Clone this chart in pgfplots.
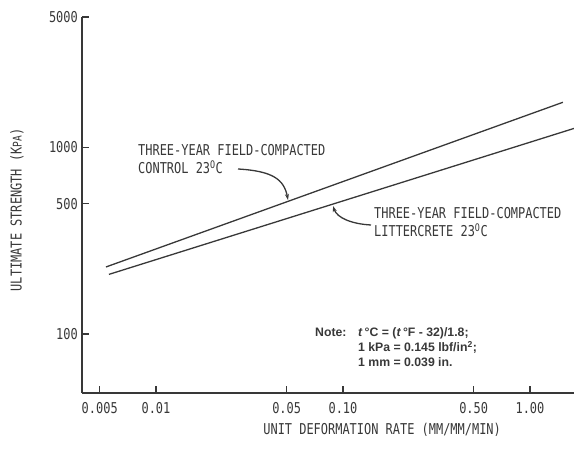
\documentclass[border=0pt]{standalone}
\usepackage{fontspec}
\usepackage{pgfplots}
\pgfplotsset{compat=1.18}
\usetikzlibrary{arrows.meta}
\setmainfont{Liberation Sans}
\newfontfamily\gothic[FakeStretch=0.8]{DejaVu Sans Mono}
\definecolor{ink}{gray}{0.22}
\newcommand{\gfont}{\gothic\fontsize{15}{18}\selectfont}
\begin{document}
\begin{tikzpicture}[x=1bp,y=1bp]
\path[use as bounding box] (-82,-56) rectangle (492,393);
\begin{axis}[
  scale only axis, width=492bp, height=376bp,
  xmode=log, ymode=log,
  xmin=0.00402, xmax=1.72, ymin=48.4, ymax=5000,
  axis lines=left, axis line style={-, line width=1.6bp, ink},
  xtick={0.005,0.01,0.05,0.1,0.5,1},
  xticklabels={0.005,0.01,0.05,0.10,0.50,1.00},
  ytick={100,500,1000,5000},
  yticklabels={100,500,1000,5000},
  xminorticks=false, yminorticks=false,
  tick align=inside, major tick length=7bp,
  tick style={line width=1.4bp, ink},
  every tick label/.append style={font=\gfont, text=ink},
  yticklabel style={inner sep=0pt, xshift=-4bp},
  xticklabel style={inner sep=0pt, yshift=-9bp},
  xlabel={UNIT DEFORMATION RATE (MM/MM/MIN)},
  ylabel={ULTIMATE STRENGTH (K{\fontsize{12}{12}\selectfont PA})},
  xlabel style={font=\gfont, text=ink, at={(axis description cs:0.610,-0.098)}, anchor=center},
  ylabel style={font=\gfont, text=ink, at={(axis description cs:-0.132,0.487)}, anchor=center},
  clip=false,
]
\addplot[ink, line width=1.3bp] coordinates {(0.0054,229) (1.50,1746)};
\addplot[ink, line width=1.3bp] coordinates {(0.0056,209) (1.72,1265)};
\end{axis}
% annotations
\node[anchor=north west, align=left, font=\gfont, text=ink, inner sep=0pt] at (56,249)
  {THREE-YEAR FIELD-COMPACTED\\CONTROL 23\textsuperscript{O}C};
\draw[ink, line width=1.3bp, -{Stealth[length=6bp,width=4bp]}] (156,224) .. controls (190,222) and (202,214) .. (206,193);
\node[anchor=north west, align=left, font=\gfont, text=ink, inner sep=0pt] at (292,186)
  {THREE-YEAR FIELD-COMPACTED\\LITTERCRETE 23\textsuperscript{O}C};
\draw[ink, line width=1.3bp, -{Stealth[length=6bp,width=4bp]}] (289,168) .. controls (270,169) and (255,175) .. (251,187);
% note
\begin{scope}[every node/.style={anchor=base west, inner sep=0pt, font=\bfseries\fontsize{12.3}{14}\selectfont, text=ink}]
\node at (233,56) {Note:};
\node at (276,56) {\textit{t}\,°C = (\textit{t}\,°F - 32)/1.8;};
\node at (276,41) {1 kPa = 0.145 lbf/in\textsuperscript{2};};
\node at (276,26) {1 mm = 0.039 in.};
\end{scope}
\end{tikzpicture}
\end{document}
